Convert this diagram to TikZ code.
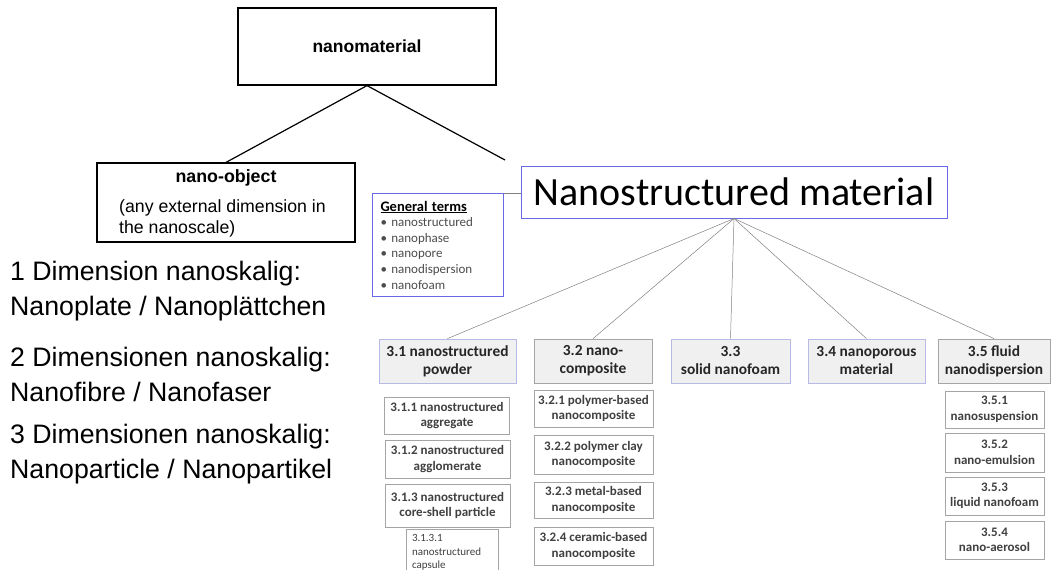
\documentclass[tikz,border=0pt]{standalone}
\usepackage{fontspec}
\setmainfont{Liberation Sans}
\newfontfamily\calibri{Carlito}
\usetikzlibrary{positioning}
\definecolor{catfill}{RGB}{240,240,240}
\definecolor{catline}{RGB}{185,185,230}
\definecolor{subline}{RGB}{165,165,165}
\definecolor{nsblue}{RGB}{105,105,230}
\begin{document}
\begin{tikzpicture}[x=1pt,y=-1pt,
	topbox/.style={draw,line width=1.2pt,inner sep=0pt},
	catbox/.style={fill=catfill,line width=0.8pt,minimum height=44pt,inner sep=0pt,align=center,text=black!85,font=\calibri\bfseries\fontsize{15.4}{18}\selectfont},
	subbox/.style={draw=subline,fill=white,line width=0.8pt,inner sep=0pt,align=center,text=black!75,font=\calibri\bfseries\fontsize{13}{15.5}\selectfont},
	fan/.style={draw=gray,line width=0.5pt},
	dimtext/.style={anchor=west,align=left,inner sep=0pt,font=\fontsize{26.7}{35}\selectfont}]
	\useasboundingbox (0,0) rectangle (1058,570);
	% upper part
	\node[topbox,minimum width=258pt,minimum height=77pt,font=\bfseries\fontsize{17.5}{20}\selectfont] (nm) at (367,46.5) {nanomaterial};
	\node[topbox,minimum width=258pt,minimum height=79pt] (obj) at (226,202.5) {};
	\node[inner sep=0pt,font=\bfseries\fontsize{17.8}{20}\selectfont] (objtitle) at (226,178) {nano-object};
	\node[anchor=west,align=left,inner sep=0pt,font=\fontsize{17.7}{21}\selectfont] (objtext) at (119,218) {(any external dimension in\\the nanoscale)};
	\node[draw=nsblue,line width=1pt,minimum width=426pt,minimum height=52pt,inner sep=0pt,font=\calibri\fontsize{40}{44}\selectfont] (ns) at (734,192) {Nanostructured material};
	\coordinate (nsend) at (505,160);
	\draw[line width=1.2pt] (nm.south) -- (obj.north);
	\draw[line width=1.2pt] (nm.south) -- (nsend);
	\node[draw=nsblue,line width=1pt,anchor=north west,minimum width=131pt,minimum height=103pt,text width=115pt,inner xsep=8pt,align=left,text=black!70,font=\calibri\fontsize{13}{15.6}\selectfont] (gen) at (372,193)
		{{\color{black}\fontsize{14.5}{15.6}\selectfont\bfseries\underline{General terms}}\\
		\textbullet\ nanostructured\\\textbullet\ nanophase\\\textbullet\ nanopore\\\textbullet\ nanodispersion\\\textbullet\ nanofoam};
	\draw[draw=gray,line width=0.8pt] (gen.north east) -- (gen.north east -| ns.west);
	% categories
	\foreach \nm/\x/\w/\ln/\t in {c1/447.5/137/catline/{3.1 nanostructured\\powder},c2/593/118/subline/{3.2 nano-\\composite},c3/730.5/119/catline/{3.3\\solid nanofoam},c4/866.5/117/catline/{3.4 nanoporous\\material},c5/994/112/subline/{3.5 fluid\\nanodispersion}}{
		\node[catbox,draw=\ln,minimum width=\w pt] (\nm) at (\x,361) {\t};
		\draw[fan] (ns.south) -- (\nm.north);
	}
	% sub boxes
	\foreach \nm/\x/\y/\w/\h/\t in {s311/447/415.5/125/37/{3.1.1 nanostructured\\aggregate},s312/447.5/459/125/38/{3.1.2 nanostructured\\agglomerate},s313/447.5/505.5/125/43/{3.1.3 nanostructured\\core-shell particle},
		s321/593.5/408.5/119/37/{3.2.1 polymer-based\\nanocomposite},s322/593.5/454.5/119/39/{3.2.2 polymer clay\\nanocomposite},s323/593.5/500/119/36/{3.2.3 metal-based\\nanocomposite},s324/593.5/546/119/38/{3.2.4 ceramic-based\\nanocomposite},
		s351/994.5/409.5/99/37/{3.5.1\\nanosuspension},s352/994.5/452.5/99/39/{3.5.2\\nano-emulsion},s353/994.5/496/99/38/{3.5.3\\liquid nanofoam},s354/994.5/540/99/38/{3.5.4\\nano-aerosol}}{
		\node[subbox,minimum width=\w pt,minimum height=\h pt] (\nm) at (\x,\y) {\t};
	}
	\node[subbox,anchor=north,minimum width=92pt,minimum height=46pt,text width=80pt,inner xsep=6pt,align=left,font=\calibri\fontsize{11}{13.5}\selectfont] (s3131) at (452,529) {3.1.3.1\\nanostructured\\capsule};
	% left texts
	\foreach \t/\y [count=\i] in {{1 Dimension nanoskalig:\\Nanoplate / Nanopl\"attchen}/291,{2 Dimensionen nanoskalig:\\Nanofibre / Nanofaser}/374,{3 Dimensionen nanoskalig:\\Nanoparticle / Nanopartikel}/454}{
		\node[dimtext] (dim\i) at (10,\y) {\t};
	}
\end{tikzpicture}
\end{document}
